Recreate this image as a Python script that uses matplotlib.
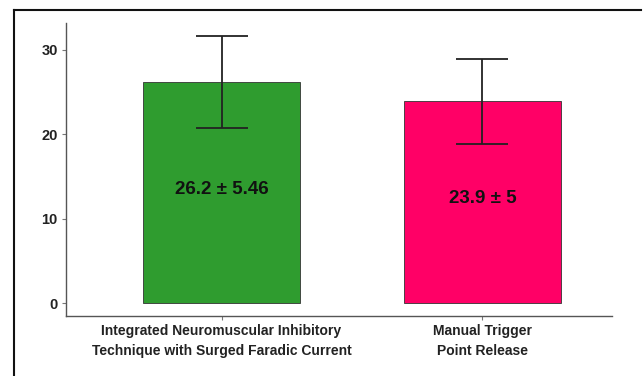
import matplotlib
matplotlib.use('Agg')
import matplotlib.pyplot as plt
from matplotlib.lines import Line2D

groups = ['Integrated Neuromuscular Inhibitory\nTechnique with Surged Faradic Current',
          'Manual Trigger\nPoint Release']
means = [26.2, 23.9]
sds = [5.46, 5.0]
labels = ['26.2 \u00b1 5.46', '23.9 \u00b1 5']
label_y = [13.5, 12.4]
colors = ['#2f9c2f', '#ff0066']

plt.rcParams['font.family'] = ['Liberation Sans', 'DejaVu Sans']

fig = plt.figure(figsize=(6.44, 3.76), dpi=100)
ax = fig.add_axes([0.1025, 0.1596, 0.8475, 0.7794])

x = [0, 1]
ax.bar(x, means, width=0.6, color=colors, edgecolor='#333333', linewidth=0.6, zorder=2)
ax.errorbar(x, means, yerr=sds, fmt='none', ecolor='#222222', elinewidth=1.3,
            capsize=18.5, capthick=1.3, zorder=3)
for xi, ly, lab in zip(x, label_y, labels):
    ax.text(xi, ly, lab, ha='center', va='center', fontsize=13.5, fontweight='bold',
            color='#111111', zorder=4)

ax.set_xlim(-0.596, 1.496)
ax.set_ylim(-1.5, 33.2)
ax.set_yticks([0, 10, 20, 30])
ax.set_xticks(x)
ax.set_xticklabels(groups, fontsize=10, fontweight='bold', color='#222222', linespacing=1.5)
for t in ax.get_yticklabels():
    t.set_fontweight('bold')
    t.set_fontsize(10.5)
    t.set_color('#222222')
ax.tick_params(axis='both', length=3, width=0.8, color='#777777', pad=3)
for s in ['top', 'right']:
    ax.spines[s].set_visible(False)
for s in ['left', 'bottom']:
    ax.spines[s].set_color('#555555')
    ax.spines[s].set_linewidth(1.0)

# outer frame (left and top edges visible)
fig.add_artist(Line2D([13.5 / 644, 13.5 / 644], [0, 1 - 10 / 376], transform=fig.transFigure,
                      color='#111111', linewidth=1.5))
fig.add_artist(Line2D([13.5 / 644, 641 / 644], [1 - 10 / 376, 1 - 10 / 376], transform=fig.transFigure,
                      color='#111111', linewidth=1.5))

fig.savefig('out.png', dpi=100)
